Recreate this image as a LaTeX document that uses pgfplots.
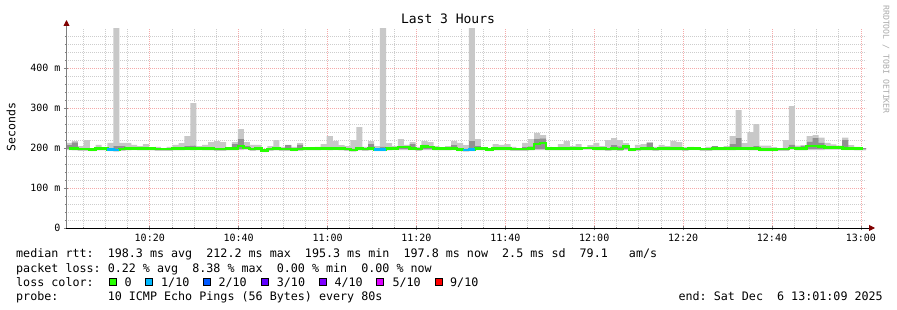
\documentclass[border=0pt]{standalone}
\usepackage{fontspec}
\setmonofont{DejaVu Sans Mono}
\usepackage{pgfplots}
\pgfplotsset{compat=1.18}
\usepackage{pgfplotstable}
\usetikzlibrary{arrows.meta}
\definecolor{smokeL}{RGB}{200,200,200}
\definecolor{smokeM}{RGB}{145,145,145}
\definecolor{lossA}{RGB}{38,255,0}
\definecolor{lossB}{RGB}{0,184,255}
\definecolor{lossC}{RGB}{0,89,255}
\definecolor{lossD}{RGB}{94,0,255}
\definecolor{lossE}{RGB}{126,0,255}
\definecolor{lossF}{RGB}{221,0,255}
\definecolor{lossJ}{RGB}{255,0,0}
\definecolor{mgrid}{RGB}{245,170,170}
\definecolor{ngrid}{RGB}{205,205,205}
\definecolor{arrowred}{RGB}{128,0,0}
\definecolor{wmark}{RGB}{170,170,170}
\newcommand{\lgfont}{\ttfamily\fontsize{11.7bp}{14bp}\selectfont}

\pgfplotstableread{
i min lo hi max med
0 195 197 207 213 199
1 194 196 214 217 198
2 193 195 200 205 197
3 193 195 200 220 197
4 192 194 199 200 196
5 194 196 201 208 198
6 194 196 200 200 198
7 192 194 199 213 196
8 191 193 205 520 195
9 193 195 205 213 197
10 194 196 201 213 198
11 195 197 202 208 199
12 194 196 201 205 198
13 194 196 201 210 198
14 194 196 200 200 198
15 193 195 200 203 197
16 193 195 200 200 197
17 193 195 200 203 197
18 194 196 201 208 198
19 194 196 201 212 198
20 195 197 205 230 199
21 194 196 206 312 198
22 195 197 202 205 199
23 194 196 201 208 198
24 194 196 201 215 198
25 193 195 200 217 197
26 193 195 200 215 197
27 194 196 200 200 198
28 194 196 210 215 198
29 195 197 222 247 205
30 196 198 205 215 200
31 193 195 200 208 197
32 194 196 201 208 198
33 190 192 197 198 194
34 193 195 200 205 197
35 194 196 201 220 198
36 193 195 200 203 197
37 193 195 207 208 197
38 192 194 199 203 196
39 193 195 208 212 197
40 194 196 200 200 198
41 194 196 200 200 198
42 194 196 201 203 198
43 195 197 202 210 199
44 194 196 201 230 198
45 195 197 202 218 199
46 194 196 201 207 198
47 193 195 200 205 197
48 191 193 198 220 195
49 194 196 201 252 198
50 193 195 200 203 197
51 194 196 210 217 198
52 192 194 199 205 196
53 192 194 203 520 196
54 194 196 201 212 198
55 195 197 202 205 199
56 195 197 205 222 202
57 195 197 205 208 202
58 195 197 210 215 199
59 193 195 200 203 197
60 195 197 208 217 203
61 195 197 205 215 202
62 194 196 201 205 198
63 194 196 201 202 198
64 194 196 201 205 198
65 195 197 207 218 199
66 192 194 199 213 196
67 191 193 198 207 195
68 192 194 217 520 196
69 195 197 205 222 199
70 194 196 201 202 198
71 192 194 199 200 196
72 194 196 201 210 198
73 194 196 201 208 198
74 194 196 201 210 198
75 193 195 200 203 197
76 193 195 200 200 197
77 193 195 202 213 197
78 194 196 204 222 198
79 195 197 222 238 210
80 195 197 224 232 212
81 194 196 201 203 198
82 194 196 200 200 198
83 194 196 201 210 198
84 194 196 201 217 198
85 195 197 202 205 199
86 195 197 202 210 199
87 196 198 202 202 200
88 196 198 203 207 200
89 194 196 201 213 198
90 194 196 201 205 198
91 193 195 200 220 197
92 194 196 207 225 198
93 193 195 204 220 197
94 195 197 206 212 203
95 192 194 199 200 196
96 193 195 200 208 197
97 194 196 201 210 198
98 194 196 212 215 198
99 193 195 200 203 197
100 194 196 201 208 198
101 194 196 201 205 198
102 194 196 201 218 198
103 194 196 201 215 198
104 193 195 200 202 197
105 195 197 202 203 199
106 195 197 202 202 199
107 193 195 200 200 197
108 193 195 200 203 197
109 194 196 205 205 198
110 194 196 201 202 198
111 194 196 201 205 198
112 194 196 210 230 198
113 195 197 225 295 199
114 195 197 202 212 199
115 194 196 201 240 198
116 194 196 205 260 198
117 192 194 199 206 196
118 192 194 199 206 196
119 192 194 199 202 196
120 193 195 200 200 197
121 193 195 200 220 197
122 196 198 208 305 200
123 194 196 201 206 198
124 194 196 205 207 198
125 195 197 216 230 205
126 195 197 225 232 205
127 195 197 213 226 203
128 196 198 204 213 201
129 196 198 204 209 201
130 196 198 204 206 201
131 195 197 220 226 199
132 195 197 202 207 199
133 194 196 201 203 198
134 194 196 200 200 198
}\smoke

\begin{document}
\begin{tikzpicture}
\path[use as bounding box] (0,0) rectangle (897bp,310bp);

\begin{axis}[
  at={(66bp,82bp)}, anchor=south west,
  width=800bp, height=200bp, scale only axis,
  xmin=-0.5, xmax=134.5, ymin=0, ymax=500,
  ybar stacked, bar width=1.03,
  xtick={13.6375,28.6375,...,134},
  xticklabels={10:20,10:40,11:00,11:20,11:40,12:00,12:20,12:40,13:00},
  minor xtick={2.3875,6.1375,...,134},
  ytick={0,100,200,300,400},
  yticklabels={0,100 m,200 m,300 m,400 m},
  minor ytick={20,40,...,480},
  grid=both,
  major grid style={mgrid, dash pattern=on 1bp off 1bp, line width=0.6bp},
  minor grid style={ngrid, dash pattern=on 1bp off 1bp, line width=0.6bp},
  axis x line=bottom, axis y line=left,
  axis line style={draw=none},
  tick style={gray, line width=0.6bp},
  major tick length=4bp, minor tick length=2bp, tick align=center,
  ticklabel style={font=\ttfamily\fontsize{10bp}{12bp}\selectfont, text=black},
  xticklabel style={yshift=-1bp},
]
\addplot[draw=none, fill=none] table[x=i, y=min]{\smoke};
\addplot[draw=none, fill=smokeL] table[x=i, y expr=\thisrow{lo}-\thisrow{min}]{\smoke};
\addplot[draw=none, fill=smokeM] table[x=i, y expr=\thisrow{hi}-\thisrow{lo}]{\smoke};
\addplot[draw=none, fill=smokeL] table[x=i, y expr=\thisrow{max}-\thisrow{hi}]{\smoke};
\end{axis}

\begin{axis}[
  at={(66bp,82bp)}, anchor=south west,
  width=800bp, height=200bp, scale only axis,
  xmin=-0.5, xmax=134.5, ymin=0, ymax=500,
  hide axis,
]
\addplot[const plot mark mid, lossA, line width=2.6bp] table[x=i, y=med]{\smoke};
\addplot[const plot, lossB, line width=2.6bp] coordinates {(6.5,196) (7.5,195) (8.5,195)};
\addplot[const plot, lossB, line width=2.6bp] coordinates {(51.5,196) (52.5,196) (53.5,196)};
\addplot[const plot, lossB, line width=2.6bp] coordinates {(66.5,195) (67.5,196) (68.5,196)};
\end{axis}

% axis lines
\draw[black, line width=0.9bp, -{Triangle[length=6bp,width=6bp,color=arrowred]}] (66bp,82bp) -- (875bp,82bp);
\draw[gray, line width=0.9bp, -{Triangle[length=6bp,width=6bp,color=arrowred]}] (66.5bp,82bp) -- (66.5bp,290bp);

% title and labels
\node[anchor=base, inner sep=0, font=\ttfamily\fontsize{13bp}{15bp}\selectfont] at (448bp,286bp) {Last 3 Hours};
\node[rotate=90, inner sep=0, font=\ttfamily\fontsize{11.5bp}{13bp}\selectfont] at (11bp,183bp) {Seconds};
\node[rotate=-90, anchor=west, inner sep=0, text=wmark, font=\ttfamily\fontsize{8.2bp}{10bp}\selectfont] at (886bp,305bp) {RRDTOOL / TOBI OETIKER};

% legend
\node[anchor=base west, inner sep=0, font=\lgfont] at (16bp,52bp) {median~rtt:~~198.3~ms~avg~~212.2~ms~max~~195.3~ms~min~~197.8~ms~now~~2.5~ms~sd~~79.1~~~am/s};
\node[anchor=base west, inner sep=0, font=\lgfont] at (16bp,38bp) {packet~loss:~0.22~\%~avg~~8.38~\%~max~~0.00~\%~min~~0.00~\%~now};
\node[anchor=base west, inner sep=0, font=\lgfont] at (16bp,24bp) {loss~color:};
\draw[black, line width=0.6bp, fill=lossA] (109bp,25bp) rectangle ++(7bp,7bp);
\draw[black, line width=0.6bp, fill=lossB] (145.7bp,25bp) rectangle ++(7bp,7bp);
\draw[black, line width=0.6bp, fill=lossC] (203bp,25bp) rectangle ++(7bp,7bp);
\draw[black, line width=0.6bp, fill=lossD] (261.3bp,25bp) rectangle ++(7bp,7bp);
\draw[black, line width=0.6bp, fill=lossE] (319bp,25bp) rectangle ++(7bp,7bp);
\draw[black, line width=0.6bp, fill=lossF] (376.7bp,25bp) rectangle ++(7bp,7bp);
\draw[black, line width=0.6bp, fill=lossJ] (435bp,25bp) rectangle ++(7bp,7bp);
\node[anchor=base west, inner sep=0, font=\lgfont] at (124.3bp,24bp) {0};
\node[anchor=base west, inner sep=0, font=\lgfont] at (161bp,24bp) {1/10};
\node[anchor=base west, inner sep=0, font=\lgfont] at (218.3bp,24bp) {2/10};
\node[anchor=base west, inner sep=0, font=\lgfont] at (276.7bp,24bp) {3/10};
\node[anchor=base west, inner sep=0, font=\lgfont] at (334.3bp,24bp) {4/10};
\node[anchor=base west, inner sep=0, font=\lgfont] at (392.3bp,24bp) {5/10};
\node[anchor=base west, inner sep=0, font=\lgfont] at (450bp,24bp) {9/10};
\node[anchor=base west, inner sep=0, font=\lgfont] at (16bp,10bp) {probe:~~~~~~~10~ICMP~Echo~Pings~(56~Bytes)~every~80s};
\node[anchor=base east, inner sep=0, font=\lgfont] at (883bp,10bp) {end:~Sat~Dec~~6~13:01:09~2025};
\end{tikzpicture}
\end{document}
